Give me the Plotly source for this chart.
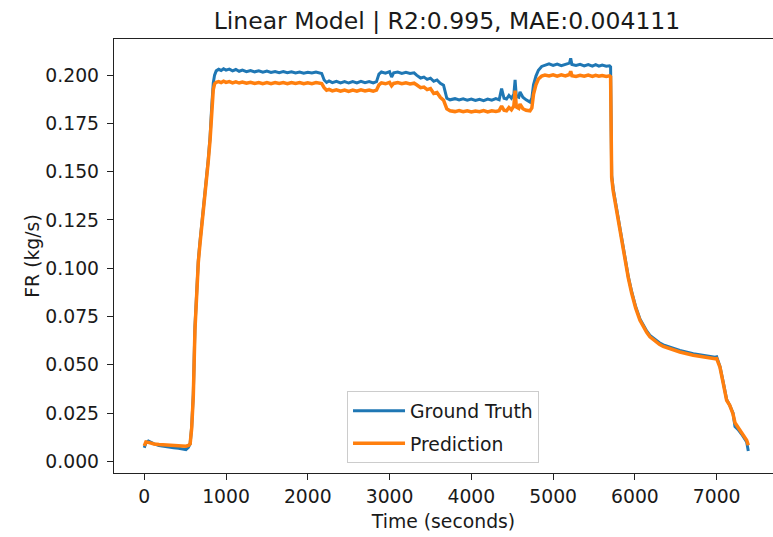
import plotly.graph_objects as go

time_s = [
    0, 20, 50, 80, 120, 180, 240, 300, 360, 420, 480, 510, 540, 561,
    580, 600, 620, 640, 661, 680, 702, 722, 742, 762, 783, 805, 824, 844, 860, 880,
    910, 940, 970, 1000, 1040, 1080, 1120, 1160, 1200, 1250, 1300, 1350, 1400, 1450, 1500,
    1550, 1600, 1650, 1700, 1750, 1800, 1850, 1900, 1950, 2000, 2050, 2100, 2140, 2170,
    2200, 2230, 2260, 2300, 2350, 2400, 2450, 2500, 2550, 2600, 2650, 2700, 2750, 2800, 2840,
    2870, 2900, 2950, 3000, 3025, 3050, 3100, 3150, 3200, 3250, 3300,
    3330, 3380, 3420, 3460, 3500, 3540, 3580, 3620, 3660, 3700,
    3740, 3800, 3850, 3900, 3950, 4000, 4050, 4100, 4150, 4200, 4250, 4300, 4340,
    4370, 4400, 4430, 4460, 4490, 4520, 4535, 4550, 4580, 4595, 4630, 4670, 4717, 4740,
    4760, 4790, 4820, 4860, 4900, 4950, 5000, 5050, 5100, 5150, 5200, 5215, 5230, 5280,
    5330, 5380, 5430, 5480, 5520, 5560, 5600, 5650, 5690, 5703,
    5708, 5712, 5716, 5735, 5756, 5785, 5818, 5850, 5879, 5920, 5961, 6010, 6062, 6100,
    6144, 6184, 6230, 6266, 6300, 6347, 6429, 6550, 6714, 6850, 6980, 7000,
    7040, 7080, 7122, 7160, 7183, 7200, 7224, 7260, 7306, 7340, 7367, 7387,
]

fr_ground_truth = [
    0.0070, 0.0095, 0.0105, 0.0098, 0.0090, 0.0082, 0.0078, 0.0072, 0.0070, 0.0068, 0.0064, 0.0060, 0.0072, 0.0090,
    0.0180, 0.0351, 0.0696, 0.0890, 0.1040, 0.1130, 0.1215, 0.1300, 0.1390, 0.1475, 0.1565, 0.1680, 0.1830, 0.1960, 0.2000, 0.2022,
    0.2030, 0.2024, 0.2033, 0.2026, 0.2031, 0.2022, 0.2029, 0.2020, 0.2026, 0.2018, 0.2024, 0.2017, 0.2022, 0.2015, 0.2021,
    0.2014, 0.2019, 0.2013, 0.2018, 0.2012, 0.2017, 0.2011, 0.2016, 0.2010, 0.2015, 0.2011, 0.2016, 0.2012, 0.2008,
    0.1975, 0.1962, 0.1970, 0.1961, 0.1968, 0.1960, 0.1967, 0.1959, 0.1966, 0.1960, 0.1968, 0.1961, 0.1967, 0.1960, 0.1966,
    0.2005, 0.2016, 0.2010, 0.2018, 0.1990, 0.2012, 0.2016, 0.2009, 0.2014, 0.2008, 0.2012,
    0.2000, 0.1985, 0.1990, 0.1978, 0.1984, 0.1968, 0.1975, 0.1958, 0.1948, 0.1880,
    0.1872, 0.1878, 0.1871, 0.1877, 0.1870, 0.1876, 0.1869, 0.1875, 0.1868, 0.1876, 0.1870, 0.1878, 0.1872,
    0.1930, 0.1880, 0.1876, 0.1895, 0.1880, 0.1900, 0.1975, 0.1890, 0.1885, 0.1913, 0.1885, 0.1872, 0.1860, 0.1880,
    0.1950, 0.1995, 0.2025, 0.2045, 0.2052, 0.2058, 0.2050, 0.2057, 0.2049, 0.2055, 0.2062, 0.2087, 0.2055, 0.2050,
    0.2056, 0.2048, 0.2055, 0.2047, 0.2054, 0.2046, 0.2052, 0.2046, 0.2048, 0.2043,
    0.1800, 0.1520, 0.1480, 0.1410, 0.1358, 0.1290, 0.1215, 0.1125, 0.1045, 0.0955, 0.0878, 0.0800, 0.0737, 0.0705,
    0.0675, 0.0652, 0.0636, 0.0625, 0.0614, 0.0603, 0.0590, 0.0574, 0.0557, 0.0546, 0.0539, 0.0541,
    0.0492, 0.0410, 0.0320, 0.0290, 0.0262, 0.0250, 0.0180, 0.0165, 0.0140, 0.0120, 0.0100, 0.0053,
]

fr_prediction = [
    0.0080, 0.0100, 0.0098, 0.0093, 0.0090, 0.0087, 0.0085, 0.0083, 0.0082, 0.0080, 0.0079, 0.0078, 0.0082, 0.0090,
    0.0170, 0.0340, 0.0680, 0.0880, 0.1030, 0.1120, 0.1205, 0.1290, 0.1380, 0.1465, 0.1555, 0.1665, 0.1815, 0.1925, 0.1955, 0.1963,
    0.1966, 0.1961, 0.1968, 0.1962, 0.1966, 0.1960, 0.1965, 0.1959, 0.1964, 0.1958, 0.1963, 0.1957, 0.1962, 0.1956, 0.1961,
    0.1956, 0.1962, 0.1957, 0.1961, 0.1956, 0.1962, 0.1957, 0.1961, 0.1955, 0.1960, 0.1956, 0.1961, 0.1957, 0.1956,
    0.1935, 0.1922, 0.1926, 0.1918, 0.1924, 0.1917, 0.1923, 0.1916, 0.1922, 0.1917, 0.1924, 0.1918, 0.1923, 0.1917, 0.1922,
    0.1950, 0.1960, 0.1955, 0.1962, 0.1945, 0.1957, 0.1961, 0.1955, 0.1960, 0.1954, 0.1958,
    0.1950, 0.1935, 0.1938, 0.1925, 0.1930, 0.1905, 0.1910, 0.1885, 0.1870, 0.1825,
    0.1815, 0.1811, 0.1816, 0.1810, 0.1815, 0.1809, 0.1814, 0.1810, 0.1816, 0.1809, 0.1815, 0.1812, 0.1816,
    0.1840, 0.1818, 0.1815, 0.1832, 0.1820, 0.1840, 0.1920, 0.1835, 0.1828, 0.1850, 0.1826, 0.1818, 0.1815, 0.1830,
    0.1900, 0.1950, 0.1980, 0.1995, 0.2000, 0.1996, 0.2002, 0.1995, 0.2001, 0.1996, 0.2003, 0.2020, 0.1997, 0.1993,
    0.1999, 0.1994, 0.2000, 0.1993, 0.1999, 0.1994, 0.1998, 0.1993, 0.1996, 0.1991,
    0.1780, 0.1500, 0.1470, 0.1400, 0.1350, 0.1282, 0.1208, 0.1118, 0.1038, 0.0948, 0.0870, 0.0793, 0.0730, 0.0698,
    0.0668, 0.0645, 0.0628, 0.0617, 0.0606, 0.0595, 0.0582, 0.0566, 0.0549, 0.0538, 0.0531, 0.0532,
    0.0488, 0.0405, 0.0316, 0.0290, 0.0264, 0.0245, 0.0200, 0.0175, 0.0145, 0.0125, 0.0109, 0.0083,
]

x_ticks = [0, 1000, 2000, 3000, 4000, 5000, 6000, 7000]
y_ticks = [0.000, 0.025, 0.050, 0.075, 0.100, 0.125, 0.150, 0.175, 0.200]

title_text = "Linear Model | R2:0.995, MAE:0.004111"
x_label = "Time (seconds)"
y_label = "FR (kg/s)"

FONT = "DejaVu Sans"
TXT = "#1a1a1a"
FS = 18.8

fig = go.Figure()
fig.add_trace(go.Scatter(x=time_s, y=fr_ground_truth, mode="lines", name="Ground Truth",
                         legendgroup="gt", line=dict(color="#1f77b4", width=3)))
fig.add_trace(go.Scatter(x=time_s, y=fr_prediction, mode="lines", name="Prediction",
                         legendgroup="pred", line=dict(color="#ff7f0e", width=3.5)))

fig.update_layout(
    width=773, height=537,
    margin=dict(l=114, r=0, t=39, b=64),
    paper_bgcolor="white", plot_bgcolor="white",
    font=dict(family=FONT, size=FS, color=TXT),
    title=dict(text=title_text, x=0.5053, xref="paper", xanchor="center",
               y=0.962, yref="container", yanchor="middle",
               font=dict(family=FONT, size=23.5, color=TXT)),
    showlegend=True,
    legend=dict(x=0.3536, y=0.023, xanchor="left", yanchor="bottom",
                bgcolor="rgba(255,255,255,0.8)", bordercolor="#cccccc", borderwidth=1,
                tracegroupgap=5, itemwidth=52,
                font=dict(family=FONT, size=FS, color=TXT)),
    xaxis=dict(range=[-370, 7689], tickvals=x_ticks, ticktext=[str(v) for v in x_ticks],
               showgrid=False, zeroline=False, showline=True, linecolor="#222", linewidth=1.3,
               mirror=True, ticks="outside", ticklen=6, tickwidth=1.3, tickcolor="#222",
               title=dict(text=x_label, font=dict(family=FONT, size=FS, color=TXT), standoff=9)),
    yaxis=dict(range=[-0.00606, 0.2187], tickvals=y_ticks, ticktext=[f"{v:.3f}" for v in y_ticks],
               showgrid=False, zeroline=False, showline=True, linecolor="#222", linewidth=1.3,
               mirror=False, ticks="outside", ticklen=6, tickwidth=1.3, tickcolor="#222",
               ticklabelstandoff=4,
               title=dict(text=y_label, font=dict(family=FONT, size=FS, color=TXT), standoff=0)),
)

fig.write_html("out.html")
